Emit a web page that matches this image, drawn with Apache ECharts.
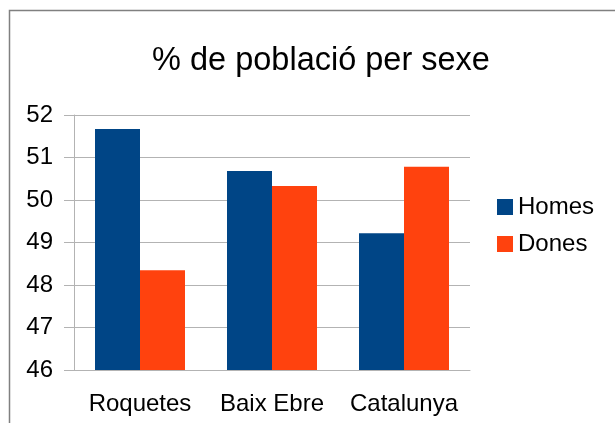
<!DOCTYPE html>
<html lang="ca">
<head>
<meta charset="UTF-8">
<title>% de població per sexe</title>
<script src="https://cdn.jsdelivr.net/npm/echarts@6/dist/echarts.min.js"></script>
<style>
	html,body{margin:0;padding:0;background:#fff;}
</style>
</head>
<body>
<div id="chart" style="width:615px;height:423px;"></div>
<script>
	var categories = ['Roquetes', 'Baix Ebre', 'Catalunya'];
	var homes = [51.67, 50.68, 49.22];
	var dones = [48.35, 50.33, 50.78];
	var seriesNames = ['Homes', 'Dones'];

	var font = '"Liberation Sans", Arial, sans-serif';
	var chart = echarts.init(document.getElementById('chart'));
	chart.setOption({
		animation: false,
		textStyle: {fontFamily: font},
		// marc gris del gràfic
		graphic: [{
			type: 'rect',
			shape: {x: 9.5, y: 10.5, width: 700, height: 500},
			style: {fill: 'none', stroke: '#808080', lineWidth: 1.5},
			z: 100
		}],
		title: {
			text: '% de població per sexe',
			left: 316,
			textAlign: 'center',
			top: 40,
			textStyle: {fontFamily: font, fontSize: 32.5, fontWeight: 'normal', color: '#000'}
		},
		legend: {
			orient: 'vertical',
			left: 492,
			top: 190,
			itemWidth: 16,
			itemHeight: 16,
			itemGap: 13,
			icon: 'rect',
			textStyle: {fontFamily: font, fontSize: 24, color: '#000'},
			data: seriesNames
		},
		grid: {left: 74, right: 145, top: 115, bottom: 53},
		xAxis: {
			type: 'category',
			data: categories,
			axisLine: {lineStyle: {color: '#b3b3b3'}},
			axisTick: {length: 11, lineStyle: {color: '#b3b3b3'}},
			axisLabel: {fontFamily: font, fontSize: 24, color: '#000', margin: 22, interval: 0, hideOverlap: false}
		},
		yAxis: {
			type: 'value',
			min: 46,
			max: 52,
			interval: 1,
			axisLine: {show: true, lineStyle: {color: '#b3b3b3'}},
			axisTick: {show: true, length: 10, lineStyle: {color: '#b3b3b3'}},
			splitLine: {lineStyle: {color: '#b3b3b3'}},
			axisLabel: {fontFamily: font, fontSize: 24, color: '#000', margin: 21}
		},
		series: [{
			name: seriesNames[0],
			type: 'bar',
			data: homes,
			barWidth: 45,
			barGap: 0,
			itemStyle: {color: '#004586'}
		}, {
			name: seriesNames[1],
			type: 'bar',
			data: dones,
			barWidth: 45,
			barGap: 0,
			itemStyle: {color: '#ff420e'}
		}]
	});
</script>
</body>
</html>
